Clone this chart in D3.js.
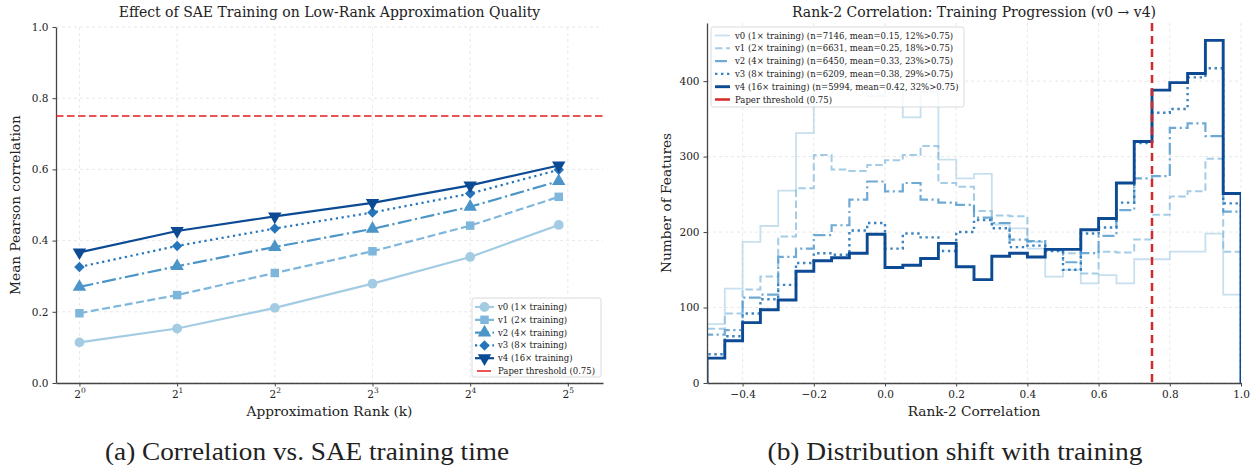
<!DOCTYPE html>
<html>
<head>
<meta charset="utf-8">
<script src="https://cdn.jsdelivr.net/npm/d3@7/dist/d3.min.js"></script>
<style>
body { margin: 0; background: #fff; }
svg text { font-family: 'DejaVu Serif', serif; fill: #222; }
</style>
</head>
<body>
<svg id="chart" width="1252" height="465"></svg>
<script>
'use strict';

// ---- data (a): mean Pearson correlation per approximation rank
var ranks = [1, 2, 4, 8, 16, 30];
var corrV0 = [0.114, 0.153, 0.211, 0.279, 0.354, 0.444];
var corrV1 = [0.196, 0.247, 0.309, 0.370, 0.442, 0.523];
var corrV2 = [0.270, 0.328, 0.382, 0.433, 0.495, 0.567];
var corrV3 = [0.326, 0.385, 0.434, 0.479, 0.532, 0.599];
var corrV4 = [0.367, 0.427, 0.468, 0.506, 0.555, 0.611];
var rankTicks = [1, 2, 4, 8, 16, 32];
var rankTickExp = ['0', '1', '2', '3', '4', '5'];
var corrTicks = [0, 0.2, 0.4, 0.6, 0.8, 1.0];
var threshold = 0.75;

// ---- data (b): rank-2 correlation histograms (counts per bin)
var binEdges = [-0.5, -0.45, -0.4, -0.35, -0.3, -0.25, -0.2, -0.15, -0.1, -0.05, 0,
	0.05, 0.1, 0.15, 0.2, 0.25, 0.3, 0.35, 0.4, 0.45, 0.5,
	0.55, 0.6, 0.65, 0.7, 0.75, 0.8, 0.85, 0.9, 0.95, 1.0];
var histV0 = [78, 125, 187, 208, 255, 331, 395, 420, 415, 380, 390, 352, 386, 296, 271,
	277, 210, 205, 178, 141, 150, 132, 143, 132, 164, 164, 174, 174, 198, 117];
var histV1 = [72, 92, 124, 141, 194, 258, 302, 283, 281, 289, 295, 302, 314, 265, 260,
	228, 222, 221, 187, 176, 172, 145, 174, 173, 190, 223, 247, 254, 297, 174];
var histV2 = [64, 70, 113, 117, 167, 178, 196, 209, 243, 267, 254, 265, 243, 239, 236,
	219, 212, 190, 188, 176, 160, 172, 195, 229, 271, 274, 338, 344, 327, 227];
var histV3 = [38, 62, 92, 111, 130, 159, 172, 170, 202, 212, 178, 198, 193, 175, 200,
	216, 205, 180, 182, 175, 150, 198, 206, 239, 318, 358, 363, 405, 417, 238];
var histV4 = [33, 56, 80, 97, 110, 148, 162, 166, 172, 197, 153, 156, 165, 185, 154,
	137, 168, 172, 167, 177, 177, 203, 218, 265, 320, 388, 398, 410, 454, 251];
var countTicks = [0, 100, 200, 300, 400];
var rhoTicks = [-0.4, -0.2, 0, 0.2, 0.4, 0.6, 0.8, 1.0];

var lineLabels = ['v0 (1\u00d7 training)', 'v1 (2\u00d7 training)', 'v2 (4\u00d7 training)',
	'v3 (8\u00d7 training)', 'v4 (16\u00d7 training)'];
var histLabels = [
	'v0 (1\u00d7 training) (n=7146, mean=0.15, 12%>0.75)',
	'v1 (2\u00d7 training) (n=6631, mean=0.25, 18%>0.75)',
	'v2 (4\u00d7 training) (n=6450, mean=0.33, 23%>0.75)',
	'v3 (8\u00d7 training) (n=6209, mean=0.38, 29%>0.75)',
	'v4 (16\u00d7 training) (n=5994, mean=0.42, 32%>0.75)'];

// ---- styles
var colors = ['#a3cce3', '#7fb7dc', '#4b95c9', '#2675ba', '#0c4a94'];
var lineDash = [null, '8,3.5', '14,3.5,2.2,3.5', '2.2,3.6', null];
var histDash = [null, '7.5,3.5', '12,3.5,2.2,3.5', '2.4,3.6', null];
var histWidth = [1.8, 2, 2.2, 2.4, 2.9];
var histAlpha = [0.6, 0.7, 0.8, 0.9, 1];
var symbols = [
	{type: d3.symbolCircle, size: 75, rot: 0},
	{type: d3.symbolSquare, size: 72, rot: 0},
	{type: d3.symbolTriangle, size: 78, rot: 0},
	{type: d3.symbolSquare, size: 55, rot: 45},
	{type: d3.symbolTriangle, size: 78, rot: 180}
];
var gridColor = '#e2e2e2';
var spineColor = '#444';
var titleSize = 14;
var labelSize = 13.7;
var tickSize = 10.5;
var legendSize = 8.5;

var svg = d3.select('#chart');

function grid(g, xs, ys, box, xScale, yScale) {
	g.selectAll('line.gy').data(ys).enter().append('line')
		.attr('x1', box.x0).attr('x2', box.x1)
		.attr('y1', function(d) { return yScale(d); })
		.attr('y2', function(d) { return yScale(d); })
		.attr('stroke', gridColor).attr('stroke-width', 0.8).attr('stroke-dasharray', '3,3');
	g.selectAll('line.gx').data(xs).enter().append('line')
		.attr('y1', box.y0).attr('y2', box.y1)
		.attr('x1', function(d) { return xScale(d); })
		.attr('x2', function(d) { return xScale(d); })
		.attr('stroke', gridColor).attr('stroke-width', 0.8).attr('stroke-dasharray', '3,3');
}

function styleAxis(g) {
	g.select('.domain').attr('stroke', spineColor).attr('stroke-width', 1.3);
	g.selectAll('.tick line').attr('stroke', spineColor).attr('stroke-width', 1);
	g.selectAll('.tick text').attr('font-size', tickSize).attr('fill', '#222')
		.attr('font-family', "'DejaVu Serif', serif");
}

// ============ panel (a) ============
var boxA = {x0: 56, x1: 603, y0: 27, y1: 383};
var xA = d3.scaleLog().base(2)
	.domain([Math.pow(2, -0.24), Math.pow(2, 5.36)])
	.range([boxA.x0, boxA.x1]);
var yA = d3.scaleLinear().domain([0, 1]).range([boxA.y1, boxA.y0]);

var gA = svg.append('g');
grid(gA, rankTicks, corrTicks, boxA, xA, yA);

var axA = gA.append('g').attr('transform', 'translate(0,' + boxA.y1 + ')')
	.call(d3.axisBottom(xA).tickValues(rankTicks).tickSize(3.5).tickSizeOuter(0).tickPadding(4));
styleAxis(axA);
axA.selectAll('.tick text').each(function(d, i) {
	var t = d3.select(this).text('');
	t.append('tspan').text('2');
	t.append('tspan').attr('dy', -4.5).attr('font-size', 7.5).text(rankTickExp[i]);
});
var ayA = gA.append('g').attr('transform', 'translate(' + boxA.x0 + ',0)')
	.call(d3.axisLeft(yA).tickValues(corrTicks).tickFormat(d3.format('.1f'))
		.tickSize(3.5).tickSizeOuter(0).tickPadding(4));
styleAxis(ayA);

// threshold
gA.append('line')
	.attr('x1', boxA.x0).attr('x2', boxA.x1)
	.attr('y1', yA(threshold)).attr('y2', yA(threshold))
	.attr('stroke', '#e41a1c').attr('stroke-opacity', 0.75)
	.attr('stroke-width', 2).attr('stroke-dasharray', '7.5,3.5');

var seriesA = [corrV0, corrV1, corrV2, corrV3, corrV4];
var lineA = d3.line()
	.x(function(d) { return xA(d[0]); })
	.y(function(d) { return yA(d[1]); });

seriesA.forEach(function(vals, i) {
	var pts = ranks.map(function(r, j) { return [r, vals[j]]; });
	gA.append('path')
		.attr('d', lineA(pts))
		.attr('fill', 'none')
		.attr('stroke', colors[i])
		.attr('stroke-width', 2.2)
		.attr('stroke-dasharray', lineDash[i]);
	var sym = d3.symbol().type(symbols[i].type).size(symbols[i].size);
	gA.selectAll('path.m' + i).data(pts).enter().append('path')
		.attr('class', 'm' + i)
		.attr('d', sym)
		.attr('transform', function(d) {
			return 'translate(' + xA(d[0]) + ',' + yA(d[1]) + ') rotate(' + symbols[i].rot + ')';
		})
		.attr('fill', colors[i]);
});

gA.append('text')
	.attr('x', (boxA.x0 + boxA.x1) / 2).attr('y', 17)
	.attr('text-anchor', 'middle').attr('font-size', titleSize)
	.text('Effect of SAE Training on Low-Rank Approximation Quality');
gA.append('text')
	.attr('x', (boxA.x0 + boxA.x1) / 2).attr('y', 416)
	.attr('text-anchor', 'middle').attr('font-size', labelSize)
	.text('Approximation Rank (k)');
gA.append('text')
	.attr('transform', 'translate(20,' + (boxA.y0 + boxA.y1) / 2 + ') rotate(-90)')
	.attr('text-anchor', 'middle').attr('font-size', labelSize)
	.text('Mean Pearson correlation');

// legend (a)
var legA = gA.append('g').attr('transform', 'translate(472,298)');
legA.append('rect')
	.attr('width', 129).attr('height', 79).attr('rx', 2)
	.attr('fill', '#fff').attr('fill-opacity', 0.8)
	.attr('stroke', '#d0d0d0').attr('stroke-width', 0.8);
lineLabels.forEach(function(lab, i) {
	var yy = 9 + i * 12.8;
	legA.append('line')
		.attr('x1', 3).attr('x2', 22).attr('y1', yy).attr('y2', yy)
		.attr('stroke', colors[i]).attr('stroke-width', 2.2)
		.attr('stroke-dasharray', lineDash[i]);
	legA.append('path')
		.attr('d', d3.symbol().type(symbols[i].type).size(symbols[i].size)())
		.attr('transform', 'translate(12.5,' + yy + ') rotate(' + symbols[i].rot + ')')
		.attr('fill', colors[i]);
	legA.append('text').attr('x', 26).attr('y', yy + 3)
		.attr('font-size', legendSize).text(lab);
});
legA.append('line')
	.attr('x1', 5).attr('x2', 19).attr('y1', 9 + 5 * 12.8).attr('y2', 9 + 5 * 12.8)
	.attr('stroke', '#e41a1c').attr('stroke-opacity', 0.75).attr('stroke-width', 2);
legA.append('text').attr('x', 26).attr('y', 12 + 5 * 12.8)
	.attr('font-size', legendSize).text('Paper threshold (0.75)');

// ============ panel (b) ============
var boxB = {x0: 707, x1: 1241, y0: 23, y1: 383};
var xB = d3.scaleLinear().domain([-0.5, 1.0]).range([boxB.x0, boxB.x1]);
var yB = d3.scaleLinear().domain([0, 477]).range([boxB.y1, boxB.y0]);

var gB = svg.append('g');
grid(gB, rhoTicks, countTicks, boxB, xB, yB);

svg.append('clipPath').attr('id', 'clipB').append('rect')
	.attr('x', boxB.x0).attr('y', boxB.y0)
	.attr('width', boxB.x1 - boxB.x0).attr('height', boxB.y1 - boxB.y0);

var seriesB = [histV0, histV1, histV2, histV3, histV4];
var stepLine = d3.line()
	.x(function(d) { return xB(d[0]); })
	.y(function(d) { return yB(d[1]); });
var histG = gB.append('g').attr('clip-path', 'url(#clipB)');
seriesB.forEach(function(counts, i) {
	var pts = [[binEdges[0], 0]];
	counts.forEach(function(c, j) {
		pts.push([binEdges[j], c]);
		pts.push([binEdges[j + 1], c]);
	});
	pts.push([binEdges[binEdges.length - 1], 0]);
	histG.append('path')
		.attr('d', stepLine(pts))
		.attr('fill', 'none')
		.attr('stroke', colors[i])
		.attr('stroke-opacity', histAlpha[i])
		.attr('stroke-width', histWidth[i])
		.attr('stroke-linejoin', 'miter')
		.attr('stroke-dasharray', histDash[i]);
});

histG.append('line')
	.attr('x1', xB(threshold)).attr('x2', xB(threshold))
	.attr('y1', boxB.y0).attr('y2', boxB.y1)
	.attr('stroke', '#d62728').attr('stroke-width', 2.5)
	.attr('stroke-dasharray', '8,5');

var axB = gB.append('g').attr('transform', 'translate(0,' + boxB.y1 + ')')
	.call(d3.axisBottom(xB).tickValues(rhoTicks).tickFormat(d3.format('.1f'))
		.tickSize(3.5).tickSizeOuter(0).tickPadding(4));
styleAxis(axB);
var ayB = gB.append('g').attr('transform', 'translate(' + boxB.x0 + ',0)')
	.call(d3.axisLeft(yB).tickValues(countTicks).tickSize(3.5).tickSizeOuter(0).tickPadding(4));
styleAxis(ayB);

gB.append('text')
	.attr('x', (boxB.x0 + boxB.x1) / 2).attr('y', 17)
	.attr('text-anchor', 'middle').attr('font-size', titleSize)
	.text('Rank-2 Correlation: Training Progression (v0 \u2192 v4)');
gB.append('text')
	.attr('x', (boxB.x0 + boxB.x1) / 2).attr('y', 416)
	.attr('text-anchor', 'middle').attr('font-size', labelSize)
	.text('Rank-2 Correlation');
gB.append('text')
	.attr('transform', 'translate(671,' + (boxB.y0 + boxB.y1) / 2 + ') rotate(-90)')
	.attr('text-anchor', 'middle').attr('font-size', labelSize)
	.text('Number of Features');

// legend (b)
var legB = gB.append('g').attr('transform', 'translate(711,27)');
legB.append('rect')
	.attr('width', 253).attr('height', 80).attr('rx', 2)
	.attr('fill', '#fff').attr('fill-opacity', 0.8)
	.attr('stroke', '#d0d0d0').attr('stroke-width', 0.8);
histLabels.forEach(function(lab, i) {
	var yy = 8.5 + i * 12.8;
	legB.append('line')
		.attr('x1', 4).attr('x2', 19).attr('y1', yy).attr('y2', yy)
		.attr('stroke', colors[i]).attr('stroke-opacity', histAlpha[i])
		.attr('stroke-width', histWidth[i]).attr('stroke-dasharray', histDash[i]);
	legB.append('text').attr('x', 24).attr('y', yy + 3)
		.attr('font-size', legendSize).text(lab);
});
legB.append('line')
	.attr('x1', 4).attr('x2', 19).attr('y1', 8.5 + 5 * 12.8).attr('y2', 8.5 + 5 * 12.8)
	.attr('stroke', '#d62728').attr('stroke-width', 2.5);
legB.append('text').attr('x', 24).attr('y', 11.5 + 5 * 12.8)
	.attr('font-size', legendSize).text('Paper threshold (0.75)');

// ---- sub-captions
svg.append('text')
	.attr('x', 307).attr('y', 460)
	.attr('text-anchor', 'middle')
	.attr('font-size', 25)
	.attr('textLength', 404).attr('lengthAdjust', 'spacingAndGlyphs')
	.style('font-family', "'Liberation Serif', serif")
	.text('(a) Correlation vs. SAE training time');
svg.append('text')
	.attr('x', 955).attr('y', 460)
	.attr('text-anchor', 'middle')
	.attr('font-size', 25)
	.attr('textLength', 375).attr('lengthAdjust', 'spacingAndGlyphs')
	.style('font-family', "'Liberation Serif', serif")
	.text('(b) Distribution shift with training');
</script>
</body>
</html>
